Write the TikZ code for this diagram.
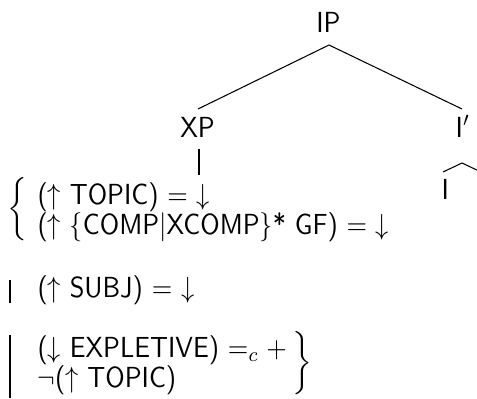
\documentclass[tikz,border=0pt]{standalone}
\usepackage{amsmath}
\usetikzlibrary{calc}
\newcommand\tallbox[1]{\scalebox{1}[1.1]{#1}}
\begin{document}
\begin{tikzpicture}[x=0.3788pt,y=-0.3788pt,
  font=\sffamily\fontsize{10}{12}\selectfont,
  lbl/.style={inner sep=0pt, anchor=base},
  txt/.style={inner sep=0pt, anchor=base west},
  delim/.style={inner sep=0pt},
  edge/.style={line width=0.4pt},
  bar/.style={line width=0.5pt}]
\useasboundingbox (0,0) rectangle (477,398);
\clip (0,0) rectangle (477,398);
% tree labels
\node[lbl] (IP) at (328.5,32) {\tallbox{IP}};
\node[lbl] (XP) at (197.5,137) {\tallbox{XP}};
\node[txt] (Ibar) at (455,137) {\tallbox{I$'$}};
\node[txt] (I) at (441,199) {\tallbox{I}};
% tree edges
\coordinate (ipb) at ($(IP.base)+(0.5,13)$);
\coordinate (xpt) at ($(XP.base)+(0.5,-28)$);
\coordinate (ibt) at ($(Ibar.base west)+(7,-28)$);
\draw[edge] (xpt) -- (ipb) -- (ibt);
\coordinate (xpb) at ($(XP.base)+(1.5,12)$);
\coordinate (xpe) at ($(XP.base)+(1.5,38)$);
\draw[edge] (xpb) -- (xpe);
\coordinate (ibb) at ($(Ibar.base west)+(7,26)$);
\coordinate (it) at ($(I.base west)+(2,-27)$);
\coordinate (vpt) at ($(ibb)+(19,9)$);
\draw[edge] (it) -- (ibb) -- (vpt);
% annotations
\node[delim] (lb) at (17,209) {$\bigg\{$};
\node[txt] (t1) at (37,204) {\tallbox{(${\uparrow}$ TOPIC) $=$ ${\downarrow}$}};
\node[txt] (t2) at (37,234) {\tallbox{(${\uparrow}$ $\{$COMP$|$XCOMP$\}$* GF) $=$ ${\downarrow}$}};
\draw[bar] (10,280) -- (10,303);
\node[txt] (t3) at (37,297) {\tallbox{(${\uparrow}$ SUBJ) $=$ ${\downarrow}$}};
\draw[bar] (10,335) -- (10,398);
\node[txt] (t4) at (37,357) {\tallbox{(${\downarrow}$ EXPLETIVE) $=_c +$}};
\node[txt] (t5) at (37,387) {\tallbox{$\neg$(${\uparrow}$ TOPIC)}};
\node[delim] (rb) at (302,363) {$\bigg\}$};
\end{tikzpicture}
\end{document}
